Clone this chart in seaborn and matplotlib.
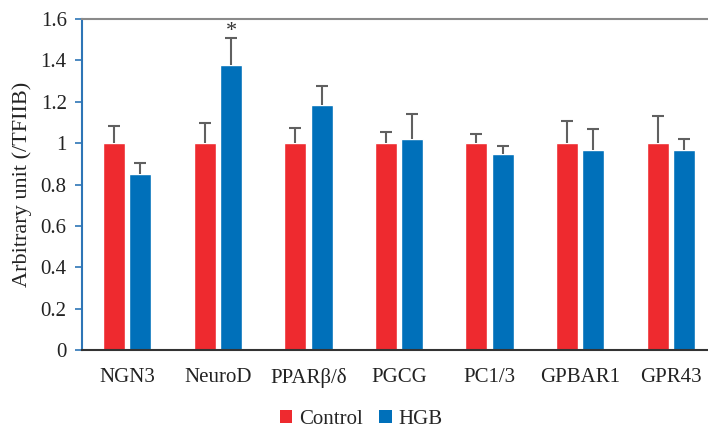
import numpy as np
import pandas as pd
import matplotlib
matplotlib.use("Agg")
import matplotlib.pyplot as plt
import seaborn as sns
from matplotlib.patches import Patch

# Relative mRNA expression normalised to TFIIB
genes = ["NGN3", "NeuroD", "PPARβ/δ", "PGCG", "PC1/3", "GPBAR1", "GPR43"]
control_mean = [1.00, 1.00, 1.00, 1.00, 1.00, 1.00, 1.00]
control_err = [0.085, 0.095, 0.075, 0.055, 0.045, 0.105, 0.13]
hgb_mean = [0.853, 1.377, 1.184, 1.019, 0.947, 0.968, 0.968]
hgb_err = [0.05, 0.13, 0.09, 0.12, 0.04, 0.10, 0.05]
groups = ["Control", "HGB"]
colors = ["#EE2A2F", "#0070BA"]
ytick_vals = [0, 0.2, 0.4, 0.6, 0.8, 1.0, 1.2, 1.4, 1.6]
ytick_labels = ["0", "0.2", "0.4", "0.6", "0.8", "1", "1.2", "1.4", "1.6"]

df = pd.DataFrame({
    "gene": genes * 2,
    "group": [groups[0]] * len(genes) + [groups[1]] * len(genes),
    "value": control_mean + hgb_mean,
})

sns.set_theme(style="white")
plt.rcParams["font.family"] = ["Liberation Serif", "DejaVu Serif"]

fig = plt.figure(figsize=(7.08, 4.30), dpi=100)
ax = fig.add_axes([82 / 708, 80 / 430, 634 / 708, 331 / 430])

sns.barplot(data=df, x="gene", y="value", hue="group", order=genes,
            hue_order=groups, palette=colors, width=0.58, gap=0.16,
            errorbar=None, legend=False, ax=ax, saturation=1)

# Upper-only error bars placed on the drawn bars
bars = [p for p in ax.patches if p.get_height() > 0]
errs = control_err + hgb_err
xs = [b.get_x() + b.get_width() / 2 for b in bars]
hs = [b.get_height() for b in bars]
_, caps, _ = ax.errorbar(xs, hs, yerr=[np.zeros(len(errs)), errs], fmt="none",
                         ecolor="#606060", elinewidth=1.5, capsize=4.5,
                         capthick=1.5, zorder=3)
# hide the cap sitting on top of each bar (lower side of the asymmetric error)
caps[0].set_visible(False)

# Significance marker on NeuroD HGB
i_nd = len(genes) + genes.index("NeuroD")
ax.text(xs[i_nd], hs[i_nd] + errs[i_nd] - 0.015, "*", ha="center",
        va="bottom", fontsize=16, color="#333333")

ax.set_xlim(-0.5, len(genes) - 0.5)
ax.set_ylim(0, 1.6)
ax.set_yticks(ytick_vals)
ax.set_yticklabels(ytick_labels, fontsize=15, color="#222222")
ax.set_xlabel("")
ax.set_ylabel("Arbitrary unit (/TFIIB)", fontsize=16, color="#222222",
              labelpad=6)
ax.tick_params(axis="x", length=0, pad=13, labelsize=15, labelcolor="#222222")
ax.tick_params(axis="y", length=5, width=1.2, color="#2E75B6", pad=6,
               left=True)

ax.spines["right"].set_visible(False)
ax.spines["left"].set_color("#2E75B6")
ax.spines["left"].set_linewidth(1.5)
ax.spines["top"].set_color("#8A8A8A")
ax.spines["top"].set_linewidth(1.5)
ax.spines["bottom"].set_color("#333333")
ax.spines["bottom"].set_linewidth(1.5)

handles = [Patch(facecolor=c, edgecolor="none", label=g)
           for g, c in zip(groups, colors)]
fig.legend(handles=handles, loc="center", bbox_to_anchor=(361 / 708, 1 - 419 / 430),
           ncol=2, frameon=False, fontsize=15, handlelength=0.6,
           handleheight=0.6, handletextpad=0.3, columnspacing=0.8,
           borderpad=0, borderaxespad=0)

fig.savefig("out.png", dpi=100)
